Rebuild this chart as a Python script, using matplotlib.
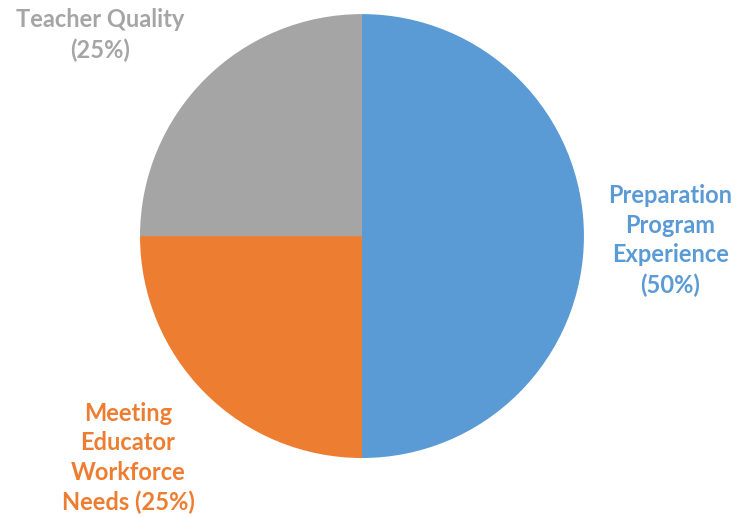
import matplotlib
matplotlib.use('Agg')
import matplotlib.pyplot as plt

# slice data, clockwise from 12 o'clock
labels = ['Preparation\nProgram\nExperience\n(50%)',
          'Meeting\nEducator\nWorkforce\nNeeds (25%)',
          'Teacher Quality\n(25%)']
shares = [50, 25, 25]
colors = ['#5B9BD5', '#ED7D31', '#A5A5A5']

fig = plt.figure(figsize=(7.41, 5.18), dpi=100)
ax = fig.add_axes([0.1889, 0.1158, 0.5992, 0.857])

wedges, texts = ax.pie(shares, labels=labels, colors=colors, startangle=90,
                       counterclock=False, radius=1.0,
                       wedgeprops=dict(linewidth=0))

# label placement (in units of the pie radius)
pos = [(1.39, -0.02), (-1.054, -1.0), (-1.18, 0.905)]
for t, c, p in zip(texts, colors, pos):
    t.set_position(p)
    t.set_color(c)
    t.set_ha('center')
    t.set_va('center')
    t.set_fontfamily('Lato')
    t.set_fontweight('bold')
    t.set_fontsize(17)
    t.set_linespacing(1.35)

ax.set_xlim(-1, 1)
ax.set_ylim(-1, 1)
ax.set_aspect('equal')
ax.axis('off')

fig.savefig('out.png', dpi=100)
